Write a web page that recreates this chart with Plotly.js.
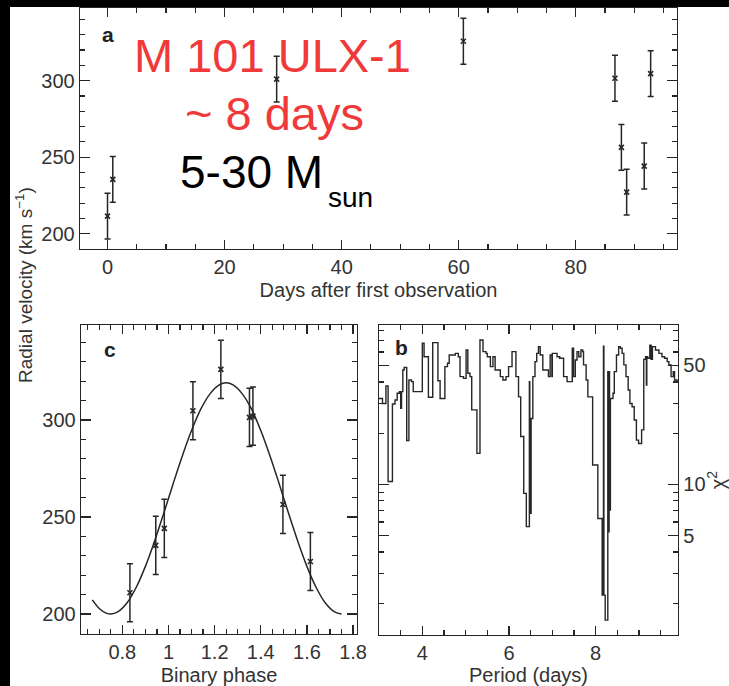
<!DOCTYPE html>
<html><head><meta charset="utf-8">
<script src="https://cdn.plot.ly/plotly-3.0.1.min.js"></script>
<style>html,body{margin:0;padding:0;background:#fff;overflow:hidden}#chart{width:729px;height:686px}</style>
</head><body><div id="chart"></div>
<script>
// Panel a: radial velocity vs days
const days = [0, 0.9, 28.9, 60.8, 86.7, 87.8, 88.7, 91.7, 92.8];
const velDays = [211.5, 235.5, 301, 325.8, 301.6, 256.4, 227.2, 244.2, 304.6];
const errDays = [15, 15, 15, 15, 15, 15, 15, 15, 15];
// Panel c: folded radial velocity vs binary phase
const phase = [0.833, 0.945, 0.982, 1.106, 1.227, 1.351, 1.366, 1.496, 1.615];
const velPhase = [211, 235.4, 244.2, 304.8, 326.1, 301.4, 302, 256.5, 227.1];
const errPhase = [15, 15, 15, 15, 15, 15, 15, 15, 15];
const fitPhase = [0.67,0.70,0.73,0.75,0.78,0.82,0.86,0.90,0.94,0.98,1.02,1.06,1.10,1.14,1.18,1.22,1.25,1.28,1.32,1.36,1.40,1.44,1.48,1.52,1.56,1.60,1.64,1.68,1.72,1.75];
const fitVel = [207.3,202.9,200.5,200,201.1,205.7,213.7,224.6,237.7,252.1,267.1,281.5,294.6,305.6,313.5,318.1,319.2,318.1,313.5,305.6,294.6,281.5,267.1,252.1,237.7,224.6,213.7,205.7,201.1,200];
// Panel b: chi-square periodogram
const period = [3.00,3.08,3.16,3.21,3.31,3.37,3.42,3.47,3.50,3.52,
 3.55,3.58,3.64,3.69,3.75,3.79,4.00,4.04,4.14,4.24,
 4.36,4.41,4.52,4.58,4.62,4.76,4.83,4.87,4.95,5.01,
 5.05,5.10,5.14,5.26,5.33,5.40,5.47,5.50,5.57,5.63,
 5.68,5.80,5.86,5.93,5.99,6.07,6.16,6.22,6.27,6.34,
 6.40,6.47,6.48,6.51,6.55,6.60,6.64,6.68,6.72,6.78,
 6.91,6.95,6.99,7.00,7.11,7.17,7.26,7.34,7.46,7.49,
 7.53,7.57,7.61,7.66,7.70,7.72,7.78,7.82,7.93,8.05,
 8.15,8.18,8.19,8.22,8.28,8.29,8.31,8.32,8.34,8.40,
 8.43,8.48,8.53,8.57,8.61,8.65,8.70,8.75,8.79,8.84,
 8.89,8.94,8.99,9.06,9.11,9.15,9.17,9.18,9.20,9.25,
 9.28,9.31,9.38,9.46,9.53,9.59,9.65,9.69,9.74,9.79,
 9.82,9.88,9.90];
const chi2 = [32.0,29.9,37.9,10.4,29.7,31.3,34.3,35.1,28.0,35.1,
 47.0,48.6,18.1,41.1,40.2,35.1,67.5,56.3,32.5,68.1,
 40.7,32.0,49.2,51.5,57.6,58.9,56.3,43.0,42.0,61.7,
 45.0,43.0,27.4,15.2,70.6,60.3,58.9,56.3,49.2,56.3,
 47.0,43.0,41.1,43.0,49.2,60.3,43.0,32.7,19.1,8.85,
 5.64,40.2,6.75,24.4,43.0,52.7,58.9,64.5,57.6,47.0,
 43.0,57.6,43.0,58.9,56.3,55.1,43.0,40.2,63.1,43.0,
 53.9,60.3,56.3,61.7,60.3,50.4,41.1,32.7,13.0,6.3,
 2.23,65.0,2.23,1.59,46.0,5.26,46.0,7.06,32.0,34.3,
 46.0,57.6,64.5,63.1,58.9,50.4,43.0,35.9,29.9,28.6,
 23.9,18.2,17.4,20.9,54.3,56.3,38.4,56.3,55.1,65.9,
 54.3,64.5,61.7,58.9,56.3,55.1,52.7,50.4,43.0,46.0,
 41.1,40.2,40.2];
const chiTickVals = [5, 10, 50];
const chiTickText = ['5', '10', '50'];
const chiMinorVals = [2,3,4,6,7,8,9,20,30,40,60,70,80];

const W = 729, H = 686;
const px = v => v / W, py = v => 1 - v / H;
const ink = '#262626';
const FONT = 'Liberation Sans, Arial, Helvetica, sans-serif';

const markerStyle = {symbol:'x-thin', size:5, color:ink, line:{width:1.6, color:ink}};
const errStyle = arr => ({type:'data', array:arr, visible:true, color:ink, thickness:1.5, width:3});

const traces = [
  {x:days, y:velDays, xaxis:'x', yaxis:'y', type:'scatter', mode:'markers',
   marker:markerStyle, error_y:errStyle(errDays), hoverinfo:'skip'},
  {x:fitPhase, y:fitVel, xaxis:'x2', yaxis:'y2', type:'scatter', mode:'lines',
   line:{color:ink, width:1.5, shape:'spline'}, hoverinfo:'skip'},
  {x:phase, y:velPhase, xaxis:'x2', yaxis:'y2', type:'scatter', mode:'markers',
   marker:markerStyle, error_y:errStyle(errPhase), hoverinfo:'skip'},
  {x:period, y:chi2, xaxis:'x3', yaxis:'y3', type:'scatter', mode:'lines',
   line:{color:ink, width:1.4, shape:'hv'}, hoverinfo:'skip'}
];

const tf = {family:FONT, size:20, color:'#333'};
const base = {showline:true, linecolor:ink, linewidth:1.3, mirror:'ticks', ticks:'inside',
  tickcolor:ink, tickwidth:1.2, showgrid:false, zeroline:false, tickfont:tf, fixedrange:true};
const minor = (o) => Object.assign({ticks:'inside', ticklen:5, tickcolor:ink, tickwidth:1.2, showgrid:false}, o);

const layout = {
  width:W, height:H, margin:{l:0, r:0, t:0, b:0}, paper_bgcolor:'#fff', plot_bgcolor:'#fff',
  showlegend:false, font:{family:FONT, color:'#333'},
  xaxis: Object.assign({}, base, {domain:[px(80), px(677)], range:[-4.7, 97.3], anchor:'y',
    tickmode:'linear', tick0:0, dtick:20, ticklen:9, minor:minor({tick0:0, dtick:5}),
    title:{text:'Days after first observation', font:tf, standoff:5}}),
  yaxis: Object.assign({}, base, {domain:[py(249), py(8)], range:[190, 347.5], anchor:'x',
    tickmode:'linear', tick0:0, dtick:50, ticklen:10, minor:minor({tick0:0, dtick:10})}),
  xaxis2: Object.assign({}, base, {domain:[px(81), px(357)], range:[0.621, 1.817], anchor:'y2',
    tickmode:'linear', tick0:0, dtick:0.2, ticklen:9, minor:minor({tick0:0, dtick:0.05}),
    title:{text:'Binary phase', font:tf, standoff:8}}),
  yaxis2: Object.assign({}, base, {domain:[py(633.5), py(325)], range:[190, 349], anchor:'x2',
    tickmode:'linear', tick0:0, dtick:50, ticklen:10, minor:minor({tick0:0, dtick:10})}),
  xaxis3: Object.assign({}, base, {domain:[px(379), px(678)], range:[3, 9.9], anchor:'y3',
    tickmode:'linear', tick0:0, dtick:2, ticklen:9, minor:minor({tick0:0, dtick:0.5}),
    title:{text:'Period (days)', font:tf, standoff:8}}),
  yaxis3: Object.assign({}, base, {type:'log', domain:[py(635), py(325)], range:[0.114, 1.937],
    anchor:'x3', side:'right', tickmode:'array', tickvals:chiTickVals, ticktext:chiTickText,
    ticklen:10, minor:minor({tickmode:'array', tickvals:chiMinorVals}),
    title:{text:'χ<sup>2</sup>', font:tf, standoff:4}}),
  shapes: [
    {type:'rect', xref:'paper', yref:'paper', x0:0, x1:1, y0:py(7), y1:1, fillcolor:'#000', line:{width:0}, layer:'above'},
    {type:'rect', xref:'paper', yref:'paper', x0:0, x1:px(10), y0:0, y1:1, fillcolor:'#000', line:{width:0}, layer:'above'}
  ],
  annotations: [
    {xref:'paper', yref:'paper', x:px(24), y:py(285), text:'Radial velocity (km s<sup>−1</sup>)',
     textangle:-90, showarrow:false, font:{family:FONT, size:19, color:'#333'}, xanchor:'center', yanchor:'middle'},
    {xref:'paper', yref:'paper', x:px(100), y:py(35), text:'<b>a</b>', showarrow:false,
     font:{family:FONT, size:21, color:'#222'}, xanchor:'left', yanchor:'middle'},
    {xref:'paper', yref:'paper', x:px(102), y:py(349), text:'<b>c</b>', showarrow:false,
     font:{family:FONT, size:21, color:'#222'}, xanchor:'left', yanchor:'middle'},
    {xref:'paper', yref:'paper', x:px(393), y:py(347), text:'<b>b</b>', showarrow:false,
     font:{family:FONT, size:21, color:'#222'}, xanchor:'left', yanchor:'middle'},
    {xref:'paper', yref:'paper', x:px(272), y:py(55), text:'M 101 ULX-1', showarrow:false,
     font:{family:FONT, size:47, color:'#f03a3a'}, xanchor:'center', yanchor:'middle'},
    {xref:'paper', yref:'paper', x:px(274), y:py(113), text:'~ 8 days', showarrow:false,
     font:{family:FONT, size:47, color:'#f03a3a'}, xanchor:'center', yanchor:'middle'},
    {xref:'paper', yref:'paper', x:px(178), y:py(172), text:'5-30 M', showarrow:false,
     font:{family:FONT, size:46, color:'#000'}, xanchor:'left', yanchor:'middle'},
    {xref:'paper', yref:'paper', x:px(326), y:py(198), text:'sun', showarrow:false,
     font:{family:FONT, size:28, color:'#000'}, xanchor:'left', yanchor:'middle'}
  ]
};

Plotly.newPlot('chart', traces, layout, {staticPlot:true, displayModeBar:false});
</script>
</body></html>
